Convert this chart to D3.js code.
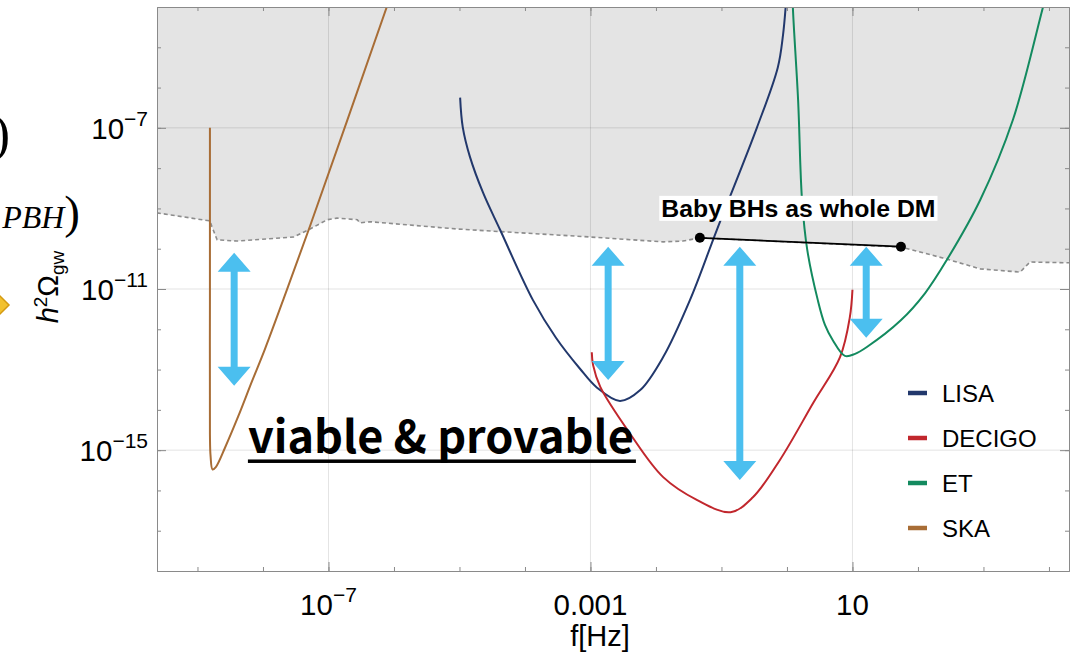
<!DOCTYPE html>
<html>
<head>
<meta charset="utf-8">
<script src="https://cdn.jsdelivr.net/npm/d3@7"></script>
<style>
  body { margin: 0; background: #fff; }
  svg { display: block; font-family: "Liberation Sans", Arial, sans-serif; }
</style>
</head>
<body>
<div id="chart"></div>
<script>
//// data, all points are [log10 f/Hz, log10 h^2 Omega_gw]
const lisa = [[-4.99,-6.25],[-4.95,-6.98],[-4.84,-7.72],[-4.64,-8.61],[-4.38,-9.53],[-3.88,-11.27],
  [-3.527,-12.21],[-3.16,-12.98],[-2.90,-13.45],[-2.55,-13.78],[-2.24,-13.51],[-1.89,-12.69],
  [-1.48,-11.27],[-1.07,-9.53],[-0.46,-7.0],[-0.14,-5.5],[-0.06,-4.69],[-0.02,-4.0],[0.0,-3.5]];
const decigo = [[-2.98,-12.57],[-2.96,-12.89],[-2.85,-13.43],[-2.40,-14.58],[-1.89,-15.67],[-1.37,-16.24],
  [-0.86,-16.54],[-0.52,-16.17],[-0.11,-15.25],[0.40,-13.83],[0.81,-12.69],[0.96,-11.70],[1.0,-11.02]];
const et = [[0.085,-3.5],[0.09,-4.0],[0.17,-6.31],[0.23,-8.79],[0.31,-10.03],[0.47,-11.27],[0.58,-11.89],
  [0.70,-12.27],[0.885,-12.66],[1.04,-12.61],[1.22,-12.44],[1.73,-11.79],[2.11,-11.10],[2.44,-10.28],
  [2.95,-8.79],[3.45,-6.80],[3.91,-4.0],[3.98,-3.6]];
const ska = [[-8.81,-7.0],[-8.81,-11.3],[-8.81,-14.6],[-8.80,-15.15],[-8.77,-15.48],[-8.72,-15.42],
  [-8.58,-14.94],[-8.38,-14.17],[-8.17,-13.30],[-7.97,-12.49],[-7.68,-11.22],[-7.28,-9.43],[-6.11,-4.0],[-5.9,-3.0]];

// excluded region (upper edge of the allowed area)
const bound = [[-9.62,-9.11],[-8.81,-9.31],[-8.78,-9.45],[-8.70,-9.78],[-8.40,-9.81],[-7.53,-9.71],
  [-7.28,-9.51],[-7.02,-9.28],[-6.87,-9.24],[-6.56,-9.28],[-6.52,-9.36],[-6.37,-9.33],[-5.04,-9.51],
  [-3.0,-9.71],[-1.89,-9.83],[-1.59,-9.81],[-1.33,-9.73],[1.74,-9.96],[2.38,-10.23],[2.95,-10.50],
  [3.56,-10.58],[3.71,-10.33],[4.31,-10.35]];

const detectors = ["LISA", "DECIGO", "ET", "SKA"];
const curves = [lisa, decigo, et, ska];
const colors = ["#22386c", "#c1272d", "#138a5f", "#a86d36"];

// double arrows
const arrowLogF = [-8.44, -2.73, -0.72, 1.21];
const arrowLogHigh = [-10.10, -9.95, -9.95, -9.95];
const arrowLogLow = [-13.40, -13.26, -15.74, -12.21];

const babyBH = [[-1.33,-9.73],[1.74,-9.95]];

const decadesX = d3.range(-9, 5);
const decadesY = d3.range(-17, -4);
const labelX = [-7, -3, 1];
const labelY = [-7, -11, -15];

//// chart
const width = 1081, height = 655;
const plot = {left: 157, right: 1069, top: 7, bottom: 571};

const svg = d3.select("#chart").append("svg")
  .attr("width", width)
  .attr("height", height);

const x = d3.scaleLog().domain([10 ** -9.618, 10 ** 4.306]).range([plot.left, plot.right]);
const y = d3.scaleLog().domain([1e-18, 1e-4]).range([plot.bottom, plot.top]);
const px = d => x(10 ** d[0]);
const py = d => y(10 ** d[1]);

svg.append("clipPath").attr("id", "clip")
  .append("rect")
  .attr("x", plot.left).attr("y", plot.top)
  .attr("width", plot.right - plot.left).attr("height", plot.bottom - plot.top);

const g = svg.append("g").attr("clip-path", "url(#clip)");

// grey excluded region
g.append("path")
  .datum(bound)
  .attr("fill", "#e4e4e4")
  .attr("d", d3.area().x(px).y0(plot.top).y1(py));

// grid
g.selectAll(".gx").data(labelX).enter().append("line")
  .attr("x1", d => x(10 ** d)).attr("x2", d => x(10 ** d))
  .attr("y1", plot.top).attr("y2", plot.bottom)
  .attr("stroke", "rgba(0,0,0,0.11)");
g.selectAll(".gy").data(labelY).enter().append("line")
  .attr("y1", d => y(10 ** d)).attr("y2", d => y(10 ** d))
  .attr("x1", plot.left).attr("x2", plot.right)
  .attr("stroke", "rgba(0,0,0,0.11)");

g.append("path")
  .datum(bound)
  .attr("fill", "none")
  .attr("stroke", "#8c8c8c")
  .attr("stroke-width", 1.6)
  .attr("stroke-dasharray", "4,3")
  .attr("d", d3.line().x(px).y(py));

// sensitivity curves
const curveLine = d3.line().x(px).y(py).curve(d3.curveCatmullRom.alpha(0.5));
curves.forEach((c, i) => {
  g.append("path")
    .datum(c)
    .attr("fill", "none")
    .attr("stroke", colors[i])
    .attr("stroke-width", 2)
    .attr("d", curveLine);
});

// arrows
function arrowPath(cx, yt, yb) {
  const hw = 16.5, sw = 3.5, hl = 19;
  return `M${cx},${yt}L${cx + hw},${yt + hl}L${cx + sw},${yt + hl}L${cx + sw},${yb - hl}` +
    `L${cx + hw},${yb - hl}L${cx},${yb}L${cx - hw},${yb - hl}L${cx - sw},${yb - hl}` +
    `L${cx - sw},${yt + hl}L${cx - hw},${yt + hl}Z`;
}
svg.selectAll(".arrow").data(arrowLogF).enter().append("path")
  .attr("class", "arrow")
  .attr("fill", "#4bbfef")
  .attr("d", (d, i) => arrowPath(x(10 ** d), y(10 ** arrowLogHigh[i]), y(10 ** arrowLogLow[i])));

// baby BHs line
svg.append("line")
  .attr("x1", px(babyBH[0])).attr("y1", py(babyBH[0]))
  .attr("x2", px(babyBH[1])).attr("y2", py(babyBH[1]))
  .attr("stroke", "#000").attr("stroke-width", 1.8);
svg.selectAll(".bdot").data(babyBH).enter().append("circle")
  .attr("cx", px).attr("cy", py).attr("r", 5).attr("fill", "#000");

const bx = (px(babyBH[0]) + px(babyBH[1])) / 2;
const bLabel = svg.append("g");
const bText = bLabel.append("text")
  .attr("x", bx - 2).attr("y", py(babyBH[0]) - 21)
  .attr("text-anchor", "middle")
  .attr("font-weight", "bold")
  .attr("font-size", 24.8)
  .text("Baby BHs as whole DM");
const bb = bText.node().getBBox();
bLabel.insert("rect", "text")
  .attr("x", bb.x - 2).attr("y", bb.y + 1)
  .attr("width", bb.width + 4).attr("height", bb.height - 2)
  .attr("fill", "#fff");

// viable & provable
const vx = x(10 ** -8.23), vy = y(10 ** -15.07);
const vText = svg.append("text")
  .attr("x", vx).attr("y", vy)
  .attr("font-family", "'Noto Sans CJK JP', 'Noto Sans', sans-serif")
  .attr("font-weight", "bold")
  .attr("font-size", 44)
  .text("viable & provable");
const vw = vText.node().getComputedTextLength();
vText.attr("font-size", 44 * 386 / vw);
svg.append("rect")
  .attr("x", vx).attr("y", vy + 6.5)
  .attr("width", 388).attr("height", 3.5)
  .attr("fill", "#000");

//// axes
const axisColor = "#8a8a8a";
function styleAxis(sel) {
  sel.selectAll("path, line").attr("stroke", axisColor);
  sel.selectAll("text").remove();
}
const minorX = decadesX.map(d => 10 ** d), majorX = labelX.map(d => 10 ** d);
const minorY = decadesY.map(d => 10 ** d), majorY = labelY.map(d => 10 ** d);

svg.append("g").attr("transform", `translate(0,${plot.bottom})`)
  .call(d3.axisBottom(x).tickValues(minorX).tickSize(-4).tickSizeOuter(0)).call(styleAxis);
svg.append("g").attr("transform", `translate(0,${plot.bottom})`)
  .call(d3.axisBottom(x).tickValues(majorX).tickSize(-9).tickSizeOuter(0)).call(styleAxis);
svg.append("g").attr("transform", `translate(0,${plot.top})`)
  .call(d3.axisTop(x).tickValues(minorX).tickSize(-4).tickSizeOuter(0)).call(styleAxis);
svg.append("g").attr("transform", `translate(0,${plot.top})`)
  .call(d3.axisTop(x).tickValues(majorX).tickSize(-9).tickSizeOuter(0)).call(styleAxis);
svg.append("g").attr("transform", `translate(${plot.left},0)`)
  .call(d3.axisLeft(y).tickValues(minorY).tickSize(-4).tickSizeOuter(0)).call(styleAxis);
svg.append("g").attr("transform", `translate(${plot.left},0)`)
  .call(d3.axisLeft(y).tickValues(majorY).tickSize(-9).tickSizeOuter(0)).call(styleAxis);
svg.append("g").attr("transform", `translate(${plot.right},0)`)
  .call(d3.axisRight(y).tickValues(minorY).tickSize(-4).tickSizeOuter(0)).call(styleAxis);
svg.append("g").attr("transform", `translate(${plot.right},0)`)
  .call(d3.axisRight(y).tickValues(majorY).tickSize(-9).tickSizeOuter(0)).call(styleAxis);

// tick labels
function powLabel(t, e) {
  if (e === -3) { t.text("0.001"); return; }
  if (e === 1) { t.text("10"); return; }
  t.append("tspan").text("10");
  t.append("tspan").attr("font-size", 21).attr("dy", -13).text("\u2212" + (-e));
}
svg.selectAll(".xl").data(labelX).enter().append("text")
  .attr("x", d => x(10 ** d)).attr("y", 615)
  .attr("text-anchor", "middle").attr("font-size", 29.5)
  .each(function (d) { powLabel(d3.select(this), d); });
svg.selectAll(".yl").data(labelY).enter().append("text")
  .attr("x", 148).attr("y", d => y(10 ** d) + 11)
  .attr("text-anchor", "end").attr("font-size", 29.5)
  .each(function (d) { powLabel(d3.select(this), d); });

svg.append("text")
  .attr("x", (plot.left + plot.right) / 2 - 13).attr("y", 646)
  .attr("text-anchor", "middle").attr("font-size", 29)
  .text("f[Hz]");

const yLab = svg.append("text")
  .attr("transform", "translate(58,287) rotate(-90)")
  .attr("text-anchor", "middle").attr("font-size", 29);
yLab.append("tspan").attr("font-style", "italic").text("h");
yLab.append("tspan").attr("font-size", 19).attr("dy", -11).text("2");
yLab.append("tspan").attr("dy", 11).text("\u03A9");
yLab.append("tspan").attr("font-size", 19).attr("dy", 6).text("gw");

// legend
const legend = svg.append("g");
detectors.forEach((name, i) => {
  const ly = 393 + 45 * i;
  legend.append("line")
    .attr("x1", 908).attr("x2", 927).attr("y1", ly).attr("y2", ly)
    .attr("stroke", colors[i]).attr("stroke-width", 4.5);
  legend.append("text")
    .attr("x", 942).attr("y", ly + 9)
    .attr("font-size", 24)
    .text(name);
});

// pieces of the neighbouring slide text cut off at the left edge
svg.append("text")
  .attr("x", 10).attr("y", 151)
  .attr("text-anchor", "end")
  .attr("font-family", "'Liberation Serif', serif")
  .attr("font-size", 52)
  .text(")");
const pbh = svg.append("text")
  .attr("x", 80).attr("y", 228)
  .attr("text-anchor", "end")
  .attr("font-family", "'Liberation Serif', serif");
pbh.append("tspan").attr("font-style", "italic").attr("font-size", 32).text("PBH");
pbh.append("tspan").attr("font-size", 47).text(")");
svg.append("polygon")
  .attr("points", "-9,305 0,296 9,305 0,314")
  .attr("fill", "#f2c12e").attr("stroke", "#d49a12").attr("stroke-width", 1.5);
</script>
</body>
</html>
